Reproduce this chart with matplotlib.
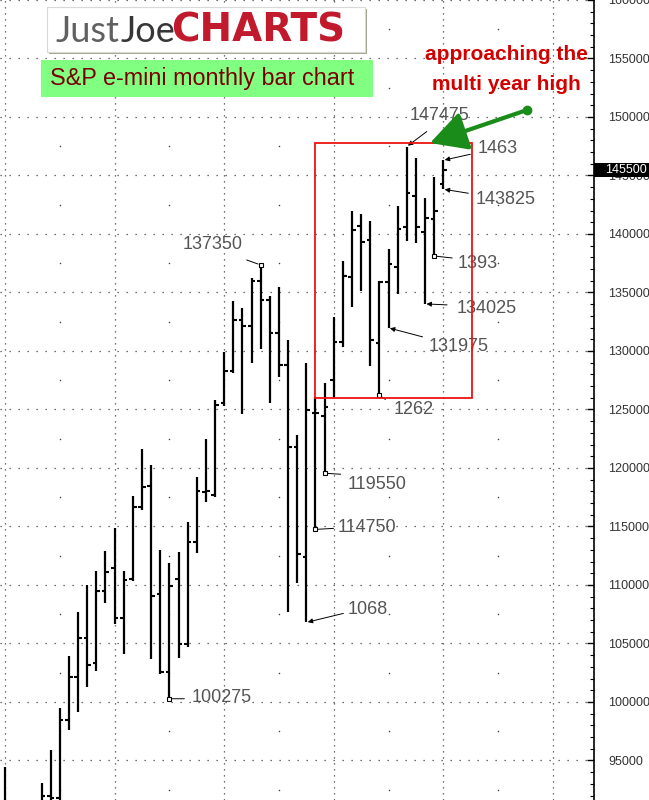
import matplotlib
matplotlib.use('Agg')
import matplotlib.pyplot as plt
from matplotlib.patches import Rectangle
from matplotlib.ticker import MultipleLocator, FuncFormatter
import numpy as np

plt.rcParams['font.family'] = ['Liberation Sans', 'DejaVu Sans']

# monthly OHLC, Jan 2009 .. Jan 2013 (price x 100)
opens = [89900, 82500, 73400, 79400, 87000, 92000, 91800, 98460, 102140, 105470,
         103330, 109490, 111450, 107180, 110510, 116670, 118460, 109230, 102560, 110510,
         104960, 113680, 117950, 117690, 125560, 128290, 132650, 132140, 135980, 134360,
         131540, 128800, 121790, 112390, 124700, 124440, 127520, 130770, 136320, 140680,
         139490, 130680, 135900, 137180, 140600, 143250, 140170, 141280, 144270]
highs = [94440, 87700, 83300, 87500, 93100, 95900, 99490, 103930, 107690, 110000,
         111200, 112900, 114870, 111200, 117600, 121620, 120260, 112990, 111880, 112820,
         115390, 119230, 122480, 125810, 129910, 134270, 133670, 136240, 137350, 134700,
         135470, 130940, 122820, 128970, 126070, 127270, 132910, 137690, 141970, 141710,
         141110, 136000, 138720, 142390, 147475, 146500, 143080, 144870, 146300]
lows = [80300, 73300, 66500, 78300, 86000, 88000, 87000, 97600, 99150, 101280,
        102650, 108460, 106670, 104100, 110300, 116400, 103670, 102390, 100275, 103760,
        104700, 112730, 117090, 117500, 125300, 128120, 124610, 128970, 130170, 125560,
        127780, 107690, 110170, 106800, 114750, 119550, 126070, 130340, 133760, 135130,
        128720, 126200, 131975, 134870, 139400, 139230, 134025, 138120, 143825]
closes = [82400, 73400, 79400, 87000, 92000, 91800, 98460, 102140, 105470, 103160,
          109490, 111110, 107180, 110430, 116670, 118380, 109060, 102560, 109910, 104960,
          113680, 118030, 118030, 125380, 128290, 132650, 132140, 135980, 134360, 131540,
          128800, 121790, 112650, 124960, 124700, 125210, 130770, 136410, 140340, 139320,
          130940, 135900, 137440, 140430, 143500, 140600, 141370, 141970, 145500]

last_price = 145500
y_ticks = list(range(95000, 160001, 5000))
year_starts = [0, 12, 24, 36, 48, 60]

# callouts: label, bar, which end, text offset px, line start offset px, arrow, square
notes = [
    ('147475', 44, 'high', (3, 31), (20, 15), True, False),
    ('1463', 48, 'high', (34, 12), (27, 6), True, False),
    ('143825', 48, 'low', (32, -10), (25, -4), True, False),
    ('1393', 47, 'low', (23, -8), (18, -2), False, True),
    ('134025', 46, 'low', (32, -5), (22, -1), True, False),
    ('131975', 42, 'low', (40, -19), (34, -9), True, False),
    ('1262', 41, 'low', (14, -14), (6, -4), False, True),
    ('137350', 28, 'high', (-78, 20), (-14, 5), False, True),
    ('119550', 35, 'low', (23, -11), (16, -1), False, True),
    ('114750', 34, 'low', (22, 2), (18, 1), False, True),
    ('1068', 33, 'low', (41, 13), (37, 9), True, False),
    ('100275', 18, 'low', (22, 1), (15, 0), False, True),
]

W, H = 649, 800
fig = plt.figure(figsize=(W / 100, H / 100), dpi=100)
ax = fig.add_axes([0, 0, 594 / W, 1])
ax.set_xlim(-0.55, 64.5)
ax.set_ylim(91620, 160000)


def px2data(px, py):
    return ax.transData.inverted().transform((px, H - py))


x = np.arange(len(opens))
ax.vlines(x, lows, highs, color='black', lw=1.6, zorder=3)
ax.hlines(opens, x - 0.4, x, color='black', lw=1.5, zorder=3)
ax.hlines(closes, x, x + 0.4, color='black', lw=1.5, zorder=3)

# axes / grid
for s in ['left', 'top', 'bottom']:
    ax.spines[s].set_visible(False)
ax.spines['right'].set_linewidth(1.2)
ax.set_xticks(year_starts)
ax.set_xticklabels([])
ax.tick_params(axis='x', length=0)
ax.yaxis.tick_right()
ax.set_yticks(y_ticks)
ax.yaxis.set_major_formatter(FuncFormatter(lambda v, p: f'{int(v)}'))
ax.yaxis.set_minor_locator(MultipleLocator(1000))
ax.tick_params(axis='y', which='major', direction='in', length=5, width=1,
               pad=10, labelsize=9, labelcolor='#333333')
ax.tick_params(axis='y', which='minor', direction='in', length=3, width=0.8)
ax.grid(axis='y', color='#444444', lw=0.9, linestyle=(0, (1, 6.2)))
ax.grid(axis='x', color='#444444', lw=0.9, linestyle=(0, (1, 3.8)))
mid_x = [v + 6 for v in year_starts[:-1]]
mid_y = [v - 2500 for v in y_ticks]
mx, my = np.meshgrid(mid_x, mid_y)
ax.scatter(mx.ravel(), my.ravel(), s=1.2, color='#444444', lw=0, zorder=1)

# callouts
for label, i, kind, tofs, lofs, arrow, square in notes:
    p = highs[i] if kind == 'high' else lows[i]
    if square:
        ax.plot(i, p, marker='s', ms=3.5, mfc='white', mec='black', mew=0.8, zorder=4)
        ax.annotate('', xy=(i, p), xytext=lofs, textcoords='offset pixels',
                    arrowprops=dict(arrowstyle='-', color='black', lw=0.7,
                                    shrinkA=0, shrinkB=2))
    else:
        ax.annotate('', xy=(i, p), xytext=lofs, textcoords='offset pixels',
                    arrowprops=dict(arrowstyle='-|>', color='black', lw=0.7,
                                    mutation_scale=7, shrinkA=0, shrinkB=1))
    ax.annotate(label, xy=(i, p), xytext=tofs, textcoords='offset pixels',
                ha='left', va='center', fontsize=13, color='#555555')

# highlight box
x0, y0 = px2data(315, 398)
x1, y1 = px2data(472, 143)
ax.add_patch(Rectangle((x0, y0), x1 - x0, y1 - y0, fill=False, ec='#ee1111',
                       lw=1.3, zorder=5))

# green arrow
gx0, gy0 = px2data(527, 110)
gx1, gy1 = px2data(430, 143)
ax.annotate('', xy=(gx1, gy1), xytext=(gx0, gy0),
            arrowprops=dict(arrowstyle='-|>,head_length=0.75,head_width=0.4',
                            color='#1a8c1a', lw=3, mutation_scale=30,
                            shrinkA=0, shrinkB=0), zorder=6)
ax.plot(gx0, gy0, 'o', color='#1a8c1a', ms=6, zorder=6)

# last price box
ytr = ax.get_yaxis_transform()
ax.add_patch(Rectangle((1.0, last_price - 600), W / 594 - 1.0, 1200, transform=ytr,
                       facecolor='black', edgecolor='none', clip_on=False, zorder=10))
ax.text(605 / 594, last_price, str(last_price), transform=ytr, ha='left', va='center',
        fontsize=9, color='white', clip_on=False, zorder=11)


def fx(px):
    return px / W


def fy(py):
    return 1 - py / H


# logo
fig.add_artist(Rectangle((fx(49), fy(54)), fx(318), 45 / H, transform=fig.transFigure,
                         facecolor='#a3a98c', edgecolor='none', zorder=3))
fig.add_artist(Rectangle((fx(47), fy(52)), fx(318), 45 / H, transform=fig.transFigure,
                         facecolor='white', edgecolor='#d8d8d8', lw=0.8, zorder=4))
t_just = fig.text(fx(55), fy(31), 'Just', fontsize=26, color='#606060', family='Lato',
                  ha='left', va='center', zorder=5)
fig.canvas.draw()
r = fig.canvas.get_renderer()
bb = t_just.get_window_extent(r)
t_joe = fig.text(bb.x1 / W + fx(2), fy(31), 'Joe', fontsize=26, color='#363636',
                 family='Lato', ha='left', va='center', zorder=5)
fig.text(fx(171), fy(30), 'CHARTS', fontsize=28, color='#c01a2c', weight='bold',
         family='DejaVu Sans', ha='left', va='center', zorder=5)

# subtitle box
fig.add_artist(Rectangle((fx(41), fy(97)), fx(332), 37 / H, transform=fig.transFigure,
                         facecolor='#80ff80', edgecolor='none', zorder=4))
fig.text(fx(50), fy(78), 'S&P e-mini monthly bar chart', fontsize=16.8,
         color='#7a0000', ha='left', va='center', zorder=5)

fig.text(fx(506), fy(55), 'approaching the', fontsize=15, weight='bold',
         color='#d40000', ha='center', va='center', zorder=5)
fig.text(fx(506), fy(85), 'multi year high', fontsize=15, weight='bold',
         color='#d40000', ha='center', va='center', zorder=5)

fig.savefig('out.png', dpi=100)
